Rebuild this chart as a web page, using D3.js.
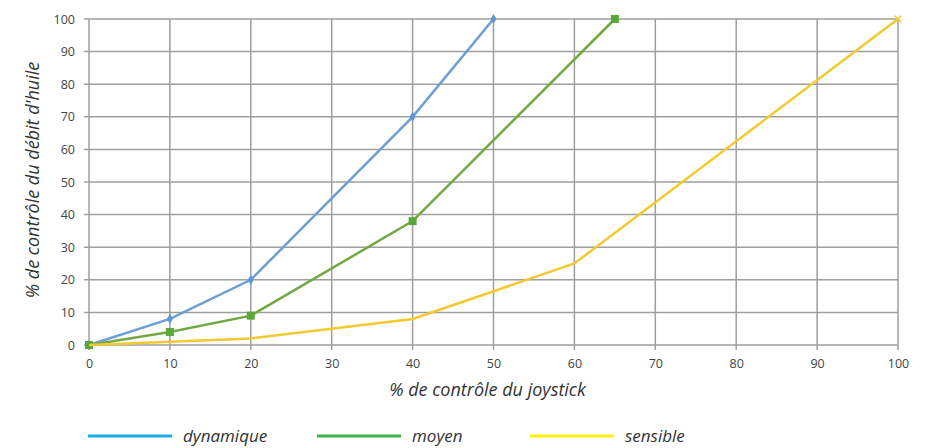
<!DOCTYPE html>
<html>
<head>
<meta charset="utf-8">
<script src="https://cdn.jsdelivr.net/npm/d3@7"></script>
<style>
  body { margin: 0; background: #fff; }
  text { font-family: "Open Sans", "Noto Sans", sans-serif; }
</style>
</head>
<body>
<div id="chart"></div>
<script>
const width = 947,
  height = 448;
const margin = { top: 19, right: 49, bottom: 103, left: 89 };

const xTicks = [0, 10, 20, 30, 40, 50, 60, 70, 80, 90, 100];
const yTicks = [0, 10, 20, 30, 40, 50, 60, 70, 80, 90, 100];

const dynamiqueX = [0, 10, 20, 40, 50];
const dynamiqueY = [0, 8, 20, 70, 100];
const moyenX = [0, 10, 20, 40, 65];
const moyenY = [0, 4, 9, 38, 100];
const sensibleX = [0, 10, 20, 40, 60, 100];
const sensibleY = [0, 1, 2, 8, 25, 100];

const seriesNames = ["dynamique", "moyen", "sensible"];
const lineColors = ["#6d9fd4", "#72a845", "#f2c92e"];
const legendColors = ["#17aee8", "#3db54a", "#fff200"];

const series = [
  { name: seriesNames[0], xs: dynamiqueX, ys: dynamiqueY, marker: "diamond" },
  { name: seriesNames[1], xs: moyenX, ys: moyenY, marker: "square" },
  { name: seriesNames[2], xs: sensibleX, ys: sensibleY, marker: "none" },
];

const innerW = width - margin.left - margin.right;
const innerH = height - margin.top - margin.bottom;

const x = d3.scaleLinear().domain([0, 100]).range([0, innerW]);
const y = d3.scaleLinear().domain([0, 100]).range([innerH, 0]);

const svg = d3
  .select("#chart")
  .append("svg")
  .attr("width", width)
  .attr("height", height);

const g = svg.append("g").attr("transform", `translate(${margin.left},${margin.top})`);

// grid
g.selectAll(".hgrid")
  .data(yTicks)
  .enter()
  .append("line")
  .attr("x1", -5)
  .attr("x2", innerW)
  .attr("y1", (d) => y(d))
  .attr("y2", (d) => y(d))
  .attr("stroke", "#9e9e9e")
  .attr("stroke-width", 1.5);

g.selectAll(".vgrid")
  .data(xTicks)
  .enter()
  .append("line")
  .attr("x1", (d) => x(d))
  .attr("x2", (d) => x(d))
  .attr("y1", 0)
  .attr("y2", innerH + 5)
  .attr("stroke", "#9e9e9e")
  .attr("stroke-width", 1.5);

// axes labels
const xAxis = g
  .append("g")
  .attr("transform", `translate(0,${innerH})`)
  .call(d3.axisBottom(x).tickValues(xTicks).tickSize(0).tickPadding(14));
const yAxis = g.append("g").call(d3.axisLeft(y).tickValues(yTicks).tickSize(0).tickPadding(14));
[xAxis, yAxis].forEach((a) => {
  a.select(".domain").remove();
  a.selectAll("text").attr("font-size", 12.5).attr("fill", "#444").attr("font-family", "'Open Sans', sans-serif");
});

g.append("text")
  .attr("x", innerW / 2 - 6)
  .attr("y", innerH + 51)
  .attr("text-anchor", "middle")
  .attr("font-size", 18)
  .attr("font-style", "italic")
  .attr("fill", "#333")
  .text("% de contrôle du joystick");

g.append("text")
  .attr("transform", `translate(${-50},${innerH / 2 - 2}) rotate(-90)`)
  .attr("text-anchor", "middle")
  .attr("font-size", 18)
  .attr("font-style", "italic")
  .attr("fill", "#333")
  .text("% de contrôle du débit d'huile");

// lines
const line = d3
  .line()
  .x((d) => x(d[0]))
  .y((d) => y(d[1]));

series.forEach((s, i) => {
  const pts = s.xs.map((v, j) => [v, s.ys[j]]);
  g.append("path")
    .datum(pts)
    .attr("fill", "none")
    .attr("stroke", lineColors[i])
    .attr("stroke-width", 2.5)
    .attr("d", line);

  if (s.marker === "diamond") {
    g.selectAll(".m" + i)
      .data(pts)
      .enter()
      .append("path")
      .attr("d", d3.symbol(d3.symbolDiamond, 30))
      .attr("transform", (d) => `translate(${x(d[0])},${y(d[1])})`)
      .attr("fill", "#5f95d2");
  } else if (s.marker === "square") {
    g.selectAll(".m" + i)
      .data(pts)
      .enter()
      .append("rect")
      .attr("x", (d) => x(d[0]) - 4)
      .attr("y", (d) => y(d[1]) - 4)
      .attr("width", 8)
      .attr("height", 8)
      .attr("fill", "#5aa83a");
  } else {
    const last = pts[pts.length - 1];
    g.append("path")
      .attr("d", d3.symbol(d3.symbolX, 30))
      .attr("transform", `translate(${x(last[0])},${y(last[1])})`)
      .attr("stroke", lineColors[i])
      .attr("stroke-width", 1.5);
  }
});

// legend
const legendX = [88, 317, 530];
const legend = svg
  .selectAll(".legend")
  .data(seriesNames)
  .enter()
  .append("g")
  .attr("transform", (d, i) => `translate(${legendX[i]},436)`);

legend
  .append("line")
  .attr("x1", 0)
  .attr("x2", 84)
  .attr("stroke", (d, i) => legendColors[i])
  .attr("stroke-width", 3);

legend
  .append("text")
  .attr("x", 95)
  .attr("y", 6)
  .attr("font-size", 17)
  .attr("font-style", "italic")
  .attr("fill", "#333")
  .text((d) => d);
</script>
</body>
</html>
